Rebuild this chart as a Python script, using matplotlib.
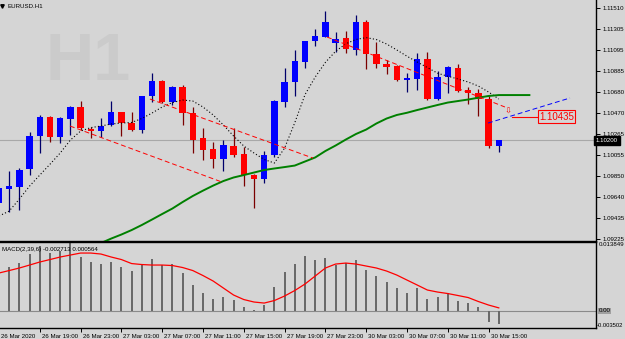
import matplotlib
matplotlib.use("Agg")
import matplotlib.pyplot as plt
import matplotlib.transforms as mtransforms
import numpy as np

plt.rcParams["font.family"] = ["Liberation Sans", "DejaVu Sans"]

BG = "#D5D5D5"

# hourly candles EURUSD H1, 26 Mar 15:00 .. 30 Mar 16:00 (index 0..49)
opens = [1.09581, 1.09720, 1.09740, 1.09918, 1.10244, 1.10432, 1.10234, 1.10412, 1.10531, 1.10313,
         1.10293, 1.10353, 1.10481, 1.10372, 1.10303, 1.10640, 1.10788, 1.10580, 1.10729, 1.10471,
         1.10224, 1.10115, 1.10017, 1.10145, 1.10066, 1.09858, 1.09819, 1.10056, 1.10580, 1.10778,
         1.10976, 1.11184, 1.11223, 1.11164, 1.11213, 1.11095, 1.11371, 1.11055, 1.10956, 1.10936,
         1.10798, 1.10808, 1.11006, 1.10610, 1.10827, 1.10917, 1.10699, 1.10669, 1.10610, 1.10145]
highs = [1.09759, 1.09898, 1.09928, 1.10284, 1.10452, 1.10442, 1.10432, 1.10541, 1.10590, 1.10333,
         1.10422, 1.10590, 1.10481, 1.10481, 1.10640, 1.10867, 1.10798, 1.10738, 1.10748, 1.10531,
         1.10323, 1.10185, 1.10204, 1.10323, 1.10135, 1.09868, 1.10096, 1.10600, 1.10917, 1.11095,
         1.11184, 1.11302, 1.11480, 1.11273, 1.11282, 1.11441, 1.11391, 1.11174, 1.10996, 1.10946,
         1.10867, 1.11065, 1.11075, 1.10887, 1.10936, 1.10956, 1.10729, 1.10709, 1.10640, 1.10204]
lows = [1.09473, 1.09492, 1.09512, 1.09858, 1.10076, 1.10185, 1.10175, 1.10254, 1.10303, 1.10224,
        1.10234, 1.10343, 1.10244, 1.10293, 1.10274, 1.10580, 1.10570, 1.10551, 1.10353, 1.10076,
        1.10007, 1.09928, 1.09898, 1.10036, 1.09749, 1.09532, 1.09779, 1.10036, 1.10531, 1.10640,
        1.10917, 1.11134, 1.11223, 1.11075, 1.11065, 1.11045, 1.10907, 1.10917, 1.10857, 1.10788,
        1.10679, 1.10699, 1.10600, 1.10600, 1.10669, 1.10679, 1.10561, 1.10442, 1.10125, 1.10086]
closes = [1.09730, 1.09749, 1.09908, 1.10244, 1.10432, 1.10234, 1.10422, 1.10531, 1.10323, 1.10293,
          1.10343, 1.10481, 1.10372, 1.10303, 1.10640, 1.10788, 1.10580, 1.10729, 1.10471, 1.10204,
          1.10106, 1.10017, 1.10155, 1.10056, 1.09858, 1.09819, 1.10056, 1.10590, 1.10778, 1.10986,
          1.11184, 1.11233, 1.11371, 1.11203, 1.11104, 1.11371, 1.11055, 1.10956, 1.10926, 1.10798,
          1.10818, 1.11006, 1.10610, 1.10827, 1.10926, 1.10689, 1.10669, 1.10610, 1.10145, 1.10204]

# black dotted moving average (index 0..49)
ma_fast = [1.09453, 1.09502, 1.09621, 1.09749, 1.09858, 1.09965, 1.10076, 1.10204, 1.10293, 1.10327,
           1.10343, 1.10363, 1.10372, 1.10378, 1.10417, 1.10471, 1.10531, 1.10575, 1.10600, 1.10590,
           1.10531, 1.10452, 1.10353, 1.10244, 1.10145, 1.10076, 1.10012, 1.09977, 1.10125, 1.10376,
           1.10653, 1.10827, 1.10972, 1.11082, 1.11156, 1.11199, 1.11217, 1.11198, 1.11154, 1.11095,
           1.11033, 1.10976, 1.10921, 1.10865, 1.10835, 1.10808, 1.10778, 1.10738, 1.10679, 1.10610]

# green moving average, shifted forward (index 10..52)
ma_slow_start = 10
ma_slow = [1.09186, 1.09230, 1.09270, 1.09314, 1.09364, 1.09418, 1.09473, 1.09527, 1.09591, 1.09651,
           1.09704, 1.09754, 1.09799, 1.09834, 1.09858, 1.09883, 1.09908, 1.09923, 1.09937, 1.09952,
           1.09992, 1.10032, 1.10096, 1.10150, 1.10209, 1.10264, 1.10308, 1.10368, 1.10417, 1.10452,
           1.10474, 1.10501, 1.10526, 1.10551, 1.10575, 1.10590, 1.10605, 1.10623, 1.10640, 1.10649,
           1.10649, 1.10649, 1.10649]

# MACD(2,39,6)
macd_hist = [0.00819, 0.00880, 0.00960, 0.01142, 0.01303, 0.01162, 0.01203, 0.01364, 0.01082, 0.00981,
             0.00940, 0.00981, 0.00880, 0.00799, 0.00940, 0.01041, 0.00920, 0.00940, 0.00759, 0.00517,
             0.00355, 0.00234, 0.00274, 0.00214, 0.00073, 0.00012, 0.00113, 0.00476, 0.00779, 0.00940,
             0.01102, 0.01021, 0.01062, 0.00920, 0.00960, 0.01021, 0.00819, 0.00698, 0.00577, 0.00456,
             0.00355, 0.00456, 0.00234, 0.00274, 0.00355, 0.00194, 0.00153, 0.00073, -0.00230, -0.00271]
macd_signal = [0.00759, 0.00809, 0.00860, 0.00920, 0.00981, 0.01031, 0.01082, 0.01122, 0.01162, 0.01162,
               0.01142, 0.01082, 0.01031, 0.00950, 0.00930, 0.00920, 0.00920, 0.00910, 0.00870, 0.00809,
               0.00708, 0.00597, 0.00456, 0.00315, 0.00224, 0.00174, 0.00153, 0.00204, 0.00295, 0.00406,
               0.00537, 0.00698, 0.00860, 0.00940, 0.00960, 0.00940, 0.00900, 0.00860, 0.00799, 0.00718,
               0.00617, 0.00517, 0.00416, 0.00375, 0.00345, 0.00305, 0.00264, 0.00184, 0.00113, 0.00056]

# trend lines: (index, price) end points
line_a = [(6.96, 1.10343), (21.86, 1.09789)]
line_b = [(14.8, 1.10610), (30.78, 1.10026)]
line_c = [(32.16, 1.11223), (49.6, 1.10531)]
line_blue = [(47.94, 1.10372), (55.98, 1.10620)]

price_ticks = [1.11510, 1.11305, 1.11095, 1.10885, 1.10680, 1.10470,
               1.10265, 1.10055, 1.09850, 1.09640, 1.09435, 1.09225]
current_price = 1.10200
alert_price = 1.10435
time_idx = [4, 8, 12, 16, 20, 24, 28, 32, 36, 40, 44, 48]
time_labels = ["26 Mar 19:00", "26 Mar 23:00", "27 Mar 03:00", "27 Mar 07:00",
               "27 Mar 11:00", "27 Mar 15:00", "27 Mar 19:00", "27 Mar 23:00",
               "30 Mar 03:00", "30 Mar 07:00", "30 Mar 11:00", "30 Mar 15:00"]
macd_max, macd_min = 0.013849, -0.003502

W, H = 625, 339
FS = 4.4
fig = plt.figure(figsize=(W / 100, H / 100), dpi=100, facecolor=BG)
ax = fig.add_axes([0, 1 - 241 / H, 596 / W, 241 / H], facecolor=BG)
ax2 = fig.add_axes([0, 1 - 328 / H, 596 / W, 86 / H], facecolor=BG)

xlim = (0.1, 58.53)
idx = np.arange(len(opens))
o, h, l, c = map(np.array, (opens, highs, lows, closes))
up = c >= o

fig.text(45 / W, 1 - 80 / H, "H1", fontsize=48, fontweight="bold", color="#CBCBCB", va="baseline")

# candles
ax.vlines(idx, l, h, colors=np.where(up, "#00006A", "#7A0000"), lw=0.9, zorder=2)
body_lo = np.minimum(o, c)
body_h = np.maximum(np.abs(c - o), 0.00006)
ax.bar(idx, body_h, bottom=body_lo, width=0.64, color=np.where(up, "#0000FF", "#FF0000"),
       linewidth=0, zorder=3)

ax.axhline(current_price, color="#A8A8A8", lw=0.8, zorder=1)
ax.plot(idx, ma_fast, color="black", lw=0.8, ls=(0, (1, 2)), zorder=4)
ax.plot(np.arange(ma_slow_start, ma_slow_start + len(ma_slow)), ma_slow, color="#008000", lw=1.4, zorder=4)
for ln in (line_a, line_b, line_c):
    ax.plot([p[0] for p in ln], [p[1] for p in ln], color="#FF0000", lw=0.7, ls=(0, (5, 3)), zorder=5)
ax.plot([p[0] for p in line_blue], [p[1] for p in line_blue], color="#0000FF", lw=0.7,
        ls=(0, (5, 3)), zorder=5)

# alert label
ax.text(49.9, 1.10490, "\u21e9", color="#FF0000", fontsize=6, ha="center", va="center",
        family=["DejaVu Sans"], zorder=6)
ax.plot([50.3, 52.8], [alert_price, alert_price], color="#FF0000", lw=0.8, zorder=5)
ax.text(52.95, alert_price, "1.10435", color="#FF0000", fontsize=7, ha="left", va="center",
        bbox=dict(boxstyle="square,pad=0.15", fc=BG, ec="#FF0000", lw=0.8), zorder=6)

ax.set_xlim(xlim)
ax.set_ylim(1.09206, 1.11589)
ax.set_xticks([])
ax.yaxis.tick_right()
ax.set_yticks(price_ticks)
ax.set_yticklabels([f"{p:.5f}" for p in price_ticks])
ax.tick_params(axis="y", direction="out", length=3, width=0.7, labelsize=FS, pad=2, colors="black")
for s in ("left", "top"):
    ax.spines[s].set_visible(False)
for s in ("right", "bottom"):
    ax.spines[s].set_linewidth(1.0)

tr = mtransforms.blended_transform_factory(ax.transAxes, ax.transData)
ax.text(1.0, current_price, "1.10200", transform=tr, color="white", fontsize=FS, ha="left",
        va="center", bbox=dict(boxstyle="square,pad=0.25", fc="black", ec="black"), zorder=7,
        clip_on=False)
ax.plot([2 / 596], [1 - 6 / 241], marker="v", ms=2.5, color="black", transform=ax.transAxes, clip_on=False)
ax.text(7 / 596, 1 - 6 / 241, "EURUSD.H1", transform=ax.transAxes, fontsize=FS, va="center", ha="left")

# MACD panel
ax2.bar(idx, macd_hist, width=0.2, color="#6A6A6A", linewidth=0, zorder=2)
ax2.axhline(0, color="#8A8A8A", lw=0.8, zorder=1)
ax2.plot(idx, macd_signal, color="#FF0000", lw=0.9, zorder=3)
ax2.set_xlim(xlim)
ax2.set_ylim(macd_min, macd_max)
ax2.set_yticks([])
ax2.spines["left"].set_visible(False)
for s in ("right", "bottom", "top"):
    ax2.spines[s].set_linewidth(1.0)
ax2.text(2 / 596, 1 - 7 / 86, "MACD(2,39,6) -0.002713 0.000564", transform=ax2.transAxes,
         fontsize=FS, va="center", ha="left")
tr2 = mtransforms.blended_transform_factory(ax2.transAxes, ax2.transData)
ax2.text(1.0 + 3 / 596, macd_max, "0.013849", transform=tr2, fontsize=FS, va="top", ha="left")
ax2.text(1.0 + 3 / 596, 0, "0.00", transform=tr2, fontsize=FS, va="center", ha="left",
         bbox=dict(boxstyle="square,pad=0.1", fc="#A0A0A0", ec="none"))
ax2.text(1.0 + 1 / 596, macd_min, "-0.003502", transform=tr2, fontsize=4.2, va="bottom", ha="left")

ax2.set_xticks(time_idx)
ax2.set_xticklabels(time_labels)
ax2.tick_params(axis="x", direction="out", length=3, width=0.7, labelsize=FS, pad=1)
shift = mtransforms.ScaledTranslation(2 / 100, 0, fig.dpi_scale_trans)
for lab in ax2.get_xticklabels():
    lab.set_ha("left")
    lab.set_transform(lab.get_transform() + shift)
ax2.text(1 / 596, -8 / 86, "26 Mar 2020", transform=ax2.transAxes, fontsize=FS, va="center", ha="left")

fig.savefig("out.png", dpi=100, facecolor=BG)
